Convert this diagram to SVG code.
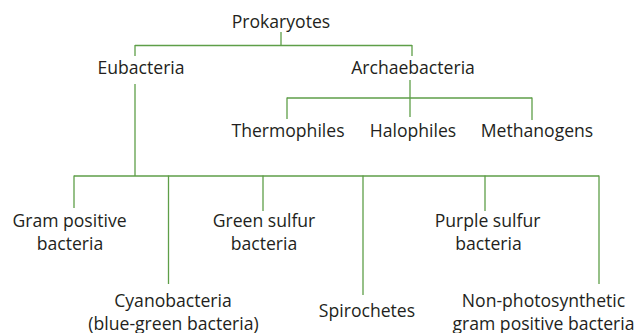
<svg xmlns="http://www.w3.org/2000/svg" width="641" height="333" viewBox="0 0 641 333">
<style>
text{font-family:"Open Sans","Noto Sans","Liberation Sans",sans-serif;font-size:17.6px;fill:#231f20;text-anchor:middle}
.c line{stroke:#5e9e48;stroke-width:1.3;fill:none}
</style>
<rect width="641" height="333" fill="#fff"/>
<g class="c" id="connectors">
<line x1="281" y1="32" x2="281" y2="45.5"/>
<line x1="135" y1="45.5" x2="412" y2="45.5"/>
<line x1="135" y1="45" x2="135" y2="56"/>
<line x1="412" y1="45" x2="412" y2="56"/>
<line x1="410" y1="80" x2="410" y2="117"/>
<line x1="287" y1="98" x2="532" y2="98"/>
<line x1="287" y1="97.5" x2="287" y2="119"/>
<line x1="532" y1="97.5" x2="532" y2="120"/>
<line x1="135" y1="84" x2="135" y2="176"/>
<line x1="74" y1="176" x2="599" y2="176"/>
<line x1="74" y1="175.5" x2="74" y2="208"/>
<line x1="168.5" y1="175.5" x2="168.5" y2="284"/>
<line x1="263" y1="175.5" x2="263" y2="211"/>
<line x1="363" y1="175.5" x2="363" y2="295"/>
<line x1="485" y1="175.5" x2="485" y2="211"/>
<line x1="599" y1="175.5" x2="599" y2="284"/>
</g>
<g id="prokaryotes"><text x="281" y="27.5">Prokaryotes</text></g>
<g id="eubacteria"><text x="141" y="73.5">Eubacteria</text></g>
<g id="archaebacteria"><text x="413" y="73.5">Archaebacteria</text></g>
<g id="thermophiles"><text x="288" y="137">Thermophiles</text></g>
<g id="halophiles"><text x="413" y="137">Halophiles</text></g>
<g id="methanogens"><text x="537" y="137">Methanogens</text></g>
<g id="gram-positive"><text x="69.5" y="226.5">Gram positive</text><text x="70" y="249.5">bacteria</text></g>
<g id="green-sulfur"><text x="264" y="226.5">Green sulfur</text><text x="264" y="249.5">bacteria</text></g>
<g id="cyanobacteria"><text x="173" y="306.5">Cyanobacteria</text><text x="173.5" y="329.5">(blue-green bacteria)</text></g>
<g id="spirochetes"><text x="367" y="316.5">Spirochetes</text></g>
<g id="purple-sulfur"><text x="487.5" y="226.5">Purple sulfur</text><text x="488.5" y="249.5">bacteria</text></g>
<g id="non-photosynthetic"><text x="543.5" y="306.5">Non-photosynthetic</text><text x="543.5" y="329.5">gram positive bacteria</text></g>
</svg>
